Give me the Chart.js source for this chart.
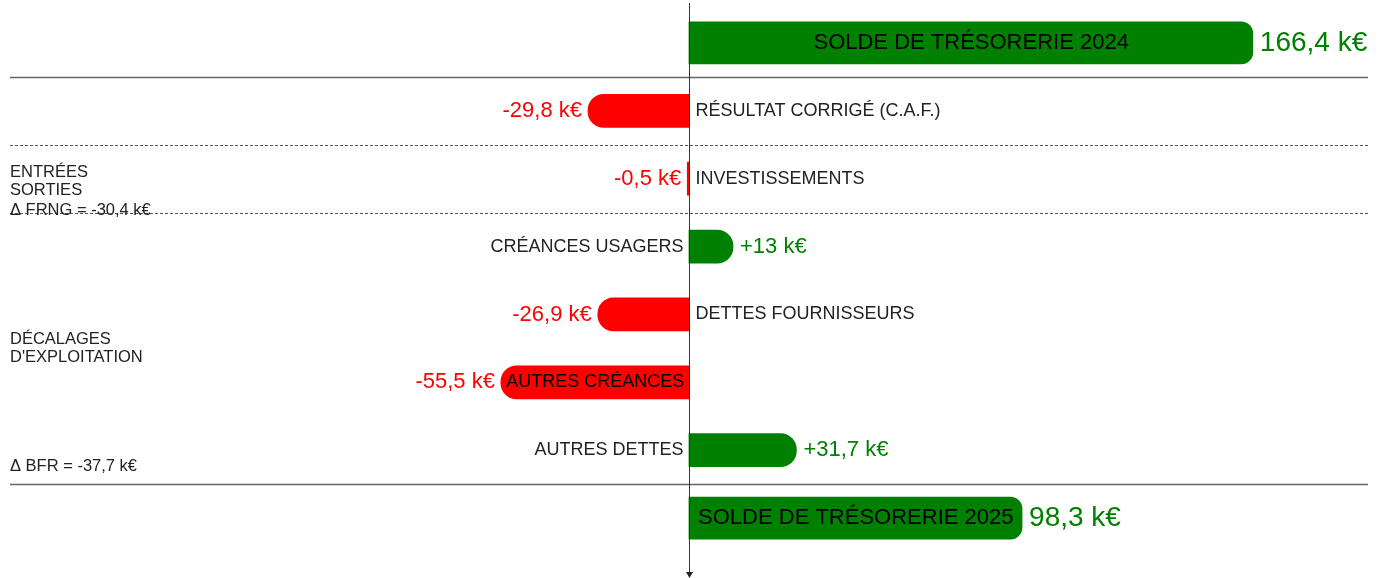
<!DOCTYPE html>
<html lang="fr">
<head>
    <meta charset="UTF-8">
    <title>Trésorerie</title>
    <script src="https://cdn.jsdelivr.net/npm/chart.js"></script>
    <style>
        html, body { margin: 0; padding: 0; background: #fff; }
        #wrap { width: 1384px; height: 578px; position: relative; }
    </style>
</head>
<body>
    <div id="wrap"><canvas id="tresoChart"></canvas></div>

    <script>
        // libellés des lignes
        const categories = [
            'SOLDE DE TRÉSORERIE 2024',
            'RÉSULTAT CORRIGÉ (C.A.F.)',
            'INVESTISSEMENTS',
            'CRÉANCES USAGERS',
            'DETTES FOURNISSEURS',
            'AUTRES CRÉANCES',
            'AUTRES DETTES',
            'SOLDE DE TRÉSORERIE 2025'
        ];
        // soldes (k€)
        const totals = [166.4, null, null, null, null, null, null, 98.3];
        // flux (k€)
        const flows = [null, -29.8, -0.5, 13, -26.9, -55.5, 31.7, null];
        // séparateurs sous chaque ligne
        const separators = ['solid', 'dashed', 'dashed', null, null, null, 'solid'];
        // annotations de gauche
        const frngNote = ['ENTRÉES', 'SORTIES', 'Δ FRNG = -30,4 k€'];
        const bfrNote = ['DÉCALAGES', "D'EXPLOITATION"];
        const bfrTotal = 'Δ BFR = -37,7 k€';

        const GREEN = '#008000';
        const RED = '#ff0000';
        const FONT = '"Liberation Sans", Arial, sans-serif';

        function fmt(v, signed) {
            let s = String(v).replace('.', ',');
            if (signed && v > 0) s = '+' + s;
            return s + ' k€';
        }

        function colorOf(v) { return v >= 0 ? GREEN : RED; }

        // lignes, axe et textes
        const decorPlugin = {
            id: 'decor',
            afterDatasetsDraw(chart) {
                const ctx = chart.ctx;
                const x = chart.scales.x;
                const y = chart.scales.y;
                const x0 = Math.round(x.getPixelForValue(0)) + 0.5;

                ctx.save();
                // séparateurs
                separators.forEach((s, i) => {
                    if (!s) return;
                    const yy = Math.round((y.getPixelForValue(i) + y.getPixelForValue(i + 1)) / 2) + 0.5;
                    ctx.strokeStyle = s === 'dashed' ? '#555' : '#666';
                    ctx.lineWidth = s === 'dashed' ? 1 : 1.4;
                    ctx.setLineDash(s === 'dashed' ? [3, 2] : []);
                    ctx.beginPath();
                    ctx.moveTo(10, yy);
                    ctx.lineTo(1368, yy);
                    ctx.stroke();
                });
                ctx.setLineDash([]);

                // axe vertical + flèche
                ctx.strokeStyle = '#333';
                ctx.lineWidth = 1;
                ctx.beginPath();
                ctx.moveTo(x0, 3);
                ctx.lineTo(x0, 573);
                ctx.stroke();
                ctx.fillStyle = '#222';
                ctx.beginPath();
                ctx.moveTo(x0 - 3.5, 572);
                ctx.lineTo(x0, 578);
                ctx.lineTo(x0 + 3.5, 572);
                ctx.closePath();
                ctx.fill();

                // libellés et valeurs
                ctx.textBaseline = 'middle';
                categories.forEach((label, i) => {
                    const isTotal = totals[i] !== null;
                    const v = isTotal ? totals[i] : flows[i];
                    const yy = y.getPixelForValue(i);
                    const xe = x.getPixelForValue(v);
                    const barW = Math.abs(xe - x0);

                    const labelFont = isTotal ? 22 : 18;
                    const valueFont = isTotal ? 28 : 22;

                    ctx.font = labelFont + 'px ' + FONT;
                    const tw = ctx.measureText(label).width;
                    ctx.fillStyle = '#222';
                    if (tw + 8 <= barW) {
                        ctx.textAlign = 'center';
                        ctx.fillStyle = '#000';
                        ctx.fillText(label, (x0 + xe) / 2, yy);
                    } else if (v < 0) {
                        ctx.textAlign = 'left';
                        ctx.fillText(label, x0 + 6, yy);
                    } else {
                        ctx.textAlign = 'right';
                        ctx.fillText(label, x0 - 6, yy);
                    }

                    ctx.font = valueFont + 'px ' + FONT;
                    ctx.fillStyle = colorOf(v);
                    if (v < 0) {
                        ctx.textAlign = 'right';
                        ctx.fillText(fmt(v, !isTotal), xe - 6, yy);
                    } else {
                        ctx.textAlign = 'left';
                        ctx.fillText(fmt(v, !isTotal), xe + 7, yy);
                    }
                });

                // annotations à gauche
                ctx.font = '16.5px ' + FONT;
                ctx.fillStyle = '#222';
                ctx.textAlign = 'left';
                const r2 = y.getPixelForValue(2);
                [-6, 12, 32].forEach((off, k) => ctx.fillText(frngNote[k], 10, r2 + off));
                const mid = (y.getPixelForValue(4) + y.getPixelForValue(5)) / 2;
                ctx.fillText(bfrNote[0], 10, mid - 9);
                ctx.fillText(bfrNote[1], 10, mid + 9);
                ctx.fillText(bfrTotal, 10, y.getPixelForValue(6) + 16);
                ctx.restore();
            }
        };

        const ctx = document.getElementById('tresoChart').getContext('2d');
        const tresoChart = new Chart(ctx, {
            type: 'bar',
            data: {
                labels: categories,
                datasets: [{
                    label: 'Soldes',
                    data: totals,
                    backgroundColor: GREEN,
                    barThickness: 42,
                    borderRadius: 12,
                    borderSkipped: 'start',
                    grouped: false
                }, {
                    label: 'Flux',
                    data: flows,
                    backgroundColor: flows.map(v => colorOf(v || 0)),
                    barThickness: 33,
                    borderRadius: 16,
                    borderSkipped: 'start',
                    grouped: false
                }]
            },
            options: {
                indexAxis: 'y',
                responsive: true,
                maintainAspectRatio: false,
                animation: false,
                layout: { padding: { top: 9, bottom: 26, left: 0, right: 0 } },
                plugins: {
                    legend: { display: false },
                    tooltip: { enabled: false }
                },
                scales: {
                    x: { display: false, min: -203.3, max: 205.1 },
                    y: { display: false }
                }
            },
            plugins: [decorPlugin]
        });
    </script>
</body>
</html>
